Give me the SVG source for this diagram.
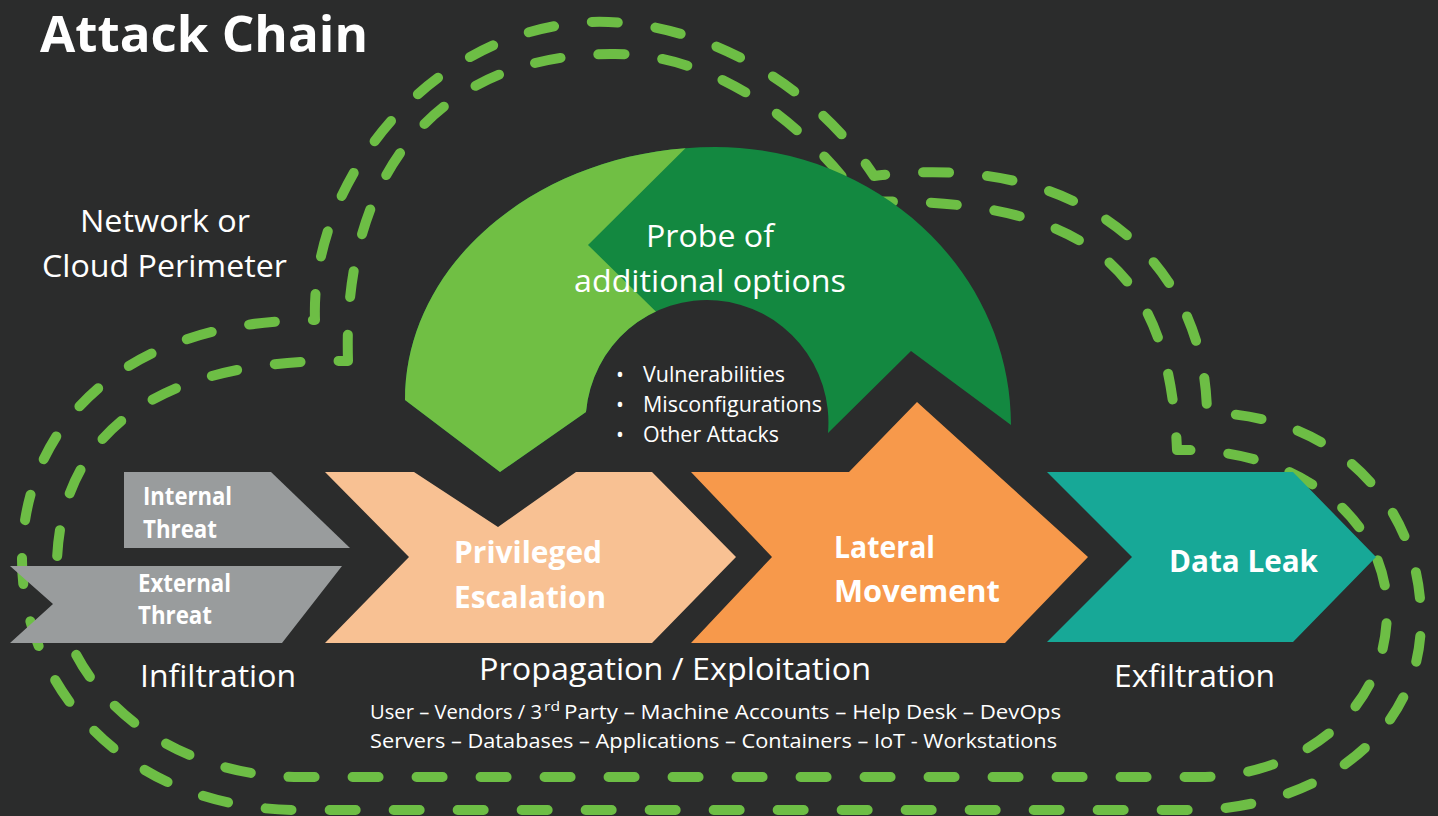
<svg xmlns="http://www.w3.org/2000/svg" width="1438" height="816" viewBox="0 0 1438 816">
<style>
.dash{fill:none;stroke:#6dbe45;stroke-width:10;stroke-linecap:round;stroke-linejoin:round;stroke-dasharray:26 38}
.t{font-family:"Open Sans","Liberation Sans",sans-serif;fill:#ffffff}
.b{font-weight:bold}
</style>
<defs>
<clipPath id="arcClip">
<path d="M405,400 C405,260 544,147 715,147 C878,147 1011,272 1011,425 L911,351 L828,433 A121 122 0 0 0 586,412 L500,472 Z"/>
</clipPath>
</defs>
<rect x="0" y="0" width="1438" height="816" fill="#2b2c2c"/>
<g id="connectors">
<path class="dash" d="M315,320 C310,180 430,30 590,22 C700,18 815,85 874,176 C1080,150 1205,260 1207,413 C1330,413 1421,500 1421,620 C1421,740 1310,810 1190,810 L300,810 C120,810 22,680 22,560 C22,420 130,320 315,320 Z"/>
<path class="dash" d="M348,361 C342,170 440,55 611,54 C720,52 810,130 862,202 C1100,195 1170,280 1177,450 C1300,448 1387,520 1387,610 C1387,720 1290,777 1200,777 L300,777 C160,777 57,680 57,580 C52,440 150,358 348,361 Z"/>
</g>
<g id="title">
<text class="t b" x="40" y="52" font-size="50" textLength="328" lengthAdjust="spacingAndGlyphs">Attack Chain</text>
</g>
<g id="perimeter">
<text class="t" x="80" y="232" font-size="31" textLength="170" lengthAdjust="spacingAndGlyphs">Network or</text>
<text class="t" x="42" y="277" font-size="31" textLength="245" lengthAdjust="spacingAndGlyphs">Cloud Perimeter</text>
</g>
<g id="probe">
<path d="M405,400 C405,260 544,147 715,147 C878,147 1011,272 1011,425 L911,351 L828,433 A121 122 0 0 0 586,412 L500,472 Z" fill="#138840"/>
<polygon points="380,100 734,100 588,245 690,345 600,500 380,500" fill="#70bf44" clip-path="url(#arcClip)"/>
<text class="t" x="646" y="247" font-size="31" textLength="128" lengthAdjust="spacingAndGlyphs">Probe of</text>
<text class="t" x="574" y="292" font-size="31" textLength="272" lengthAdjust="spacingAndGlyphs">additional options</text>
<text class="t" x="620" y="382" font-size="21" text-anchor="middle">•</text>
<text class="t" x="620" y="412" font-size="21" text-anchor="middle">•</text>
<text class="t" x="620" y="442" font-size="21" text-anchor="middle">•</text>
<text class="t" x="643" y="382" font-size="21" textLength="142" lengthAdjust="spacingAndGlyphs">Vulnerabilities</text>
<text class="t" x="643" y="412" font-size="21" textLength="179" lengthAdjust="spacingAndGlyphs">Misconfigurations</text>
<text class="t" x="643" y="442" font-size="21" textLength="136" lengthAdjust="spacingAndGlyphs">Other Attacks</text>
</g>
<g id="internal-threat">
<polygon points="124,472 271,472 350,548 124,548" fill="#999c9d"/>
<text class="t b" x="143" y="505" font-size="25" textLength="89" lengthAdjust="spacingAndGlyphs">Internal</text>
<text class="t b" x="143" y="538" font-size="25" textLength="74" lengthAdjust="spacingAndGlyphs">Threat</text>
</g>
<g id="external-threat">
<polygon points="10,566 342,566 282,643 10,643 53,604" fill="#999c9d"/>
<text class="t b" x="138" y="592" font-size="25" textLength="93" lengthAdjust="spacingAndGlyphs">External</text>
<text class="t b" x="138" y="624" font-size="25" textLength="74" lengthAdjust="spacingAndGlyphs">Threat</text>
</g>
<g id="privileged-escalation">
<polygon points="325,472 414,472 498,527 576,472 652,472 736,557 652,643 325,643 409,557" fill="#f8c193"/>
<text class="t b" x="454" y="563" font-size="30" textLength="148" lengthAdjust="spacingAndGlyphs">Privileged</text>
<text class="t b" x="454" y="608" font-size="30" textLength="152" lengthAdjust="spacingAndGlyphs">Escalation</text>
</g>
<g id="lateral-movement">
<polygon points="691,472 849,472 917,402 1088,557 1005,643 691,643 772,557" fill="#f7994b"/>
<text class="t b" x="834" y="558" font-size="30" textLength="101" lengthAdjust="spacingAndGlyphs">Lateral</text>
<text class="t b" x="834" y="602" font-size="30" textLength="166" lengthAdjust="spacingAndGlyphs">Movement</text>
</g>
<g id="data-leak">
<polygon points="1047,472 1293,472 1376,557 1293,642 1047,642 1132,557" fill="#17a897"/>
<text class="t b" x="1169" y="572" font-size="30" textLength="149" lengthAdjust="spacingAndGlyphs">Data Leak</text>
</g>
<g id="phases">
<text class="t" x="140" y="687" font-size="31" textLength="156" lengthAdjust="spacingAndGlyphs">Infiltration</text>
<text class="t" x="479" y="680" font-size="31" textLength="392" lengthAdjust="spacingAndGlyphs">Propagation / Exploitation</text>
<text class="t" x="1114" y="687" font-size="31" textLength="161" lengthAdjust="spacingAndGlyphs">Exfiltration</text>
</g>
<g id="targets">
<text class="t" x="370" y="719" font-size="20" textLength="172" lengthAdjust="spacingAndGlyphs">User – Vendors / 3</text>
<text class="t" x="544" y="711" font-size="13" textLength="16" lengthAdjust="spacingAndGlyphs">rd</text>
<text class="t" x="564" y="719" font-size="20" textLength="497" lengthAdjust="spacingAndGlyphs">Party – Machine Accounts – Help Desk – DevOps</text>
<text class="t" x="370" y="748" font-size="20" textLength="687" lengthAdjust="spacingAndGlyphs">Servers – Databases – Applications – Containers – IoT - Workstations</text>
</g>
</svg>
